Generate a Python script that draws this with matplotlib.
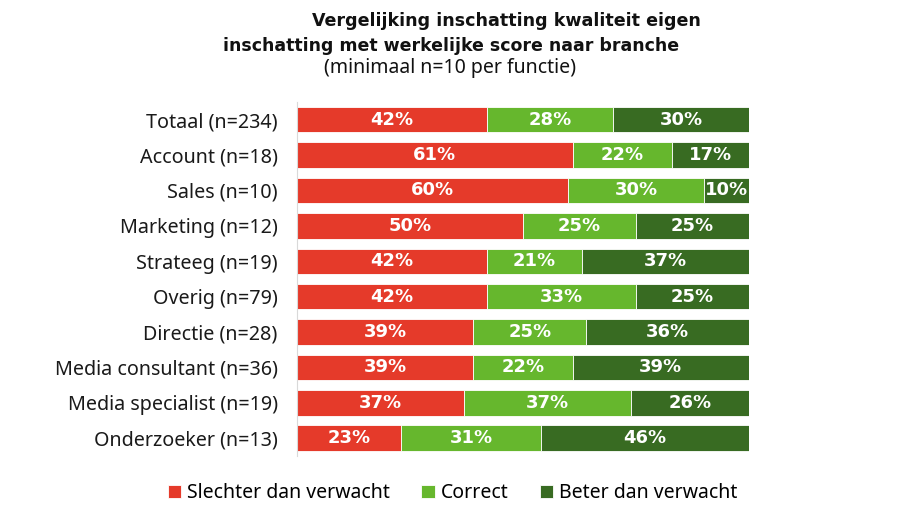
import numpy as np
import matplotlib.pyplot as plt

plt.rcParams['font.family'] = ['Noto Sans', 'DejaVu Sans']
BOLD = ['DejaVu Sans']

# data
categories = ["Totaal (n=234)", "Account (n=18)", "Sales (n=10)", "Marketing (n=12)",
              "Strateeg (n=19)", "Overig (n=79)", "Directie (n=28)",
              "Media consultant (n=36)", "Media specialist (n=19)", "Onderzoeker (n=13)"]
slechter = [42, 61, 60, 50, 42, 42, 39, 39, 37, 23]
correct = [28, 22, 30, 25, 21, 33, 25, 22, 37, 31]
beter = [30, 17, 10, 25, 37, 25, 36, 39, 26, 46]
series_names = ["Slechter dan verwacht", "Correct", "Beter dan verwacht"]
colors = ["#E53A2A", "#66B72D", "#386B22"]

fig = plt.figure(figsize=(9.2, 5.18), dpi=100)
ax = fig.add_axes([0.323, 0.12, 0.491, 0.683])

y = np.arange(len(categories))
left = np.zeros(len(categories))
for vals, name, col in zip([slechter, correct, beter], series_names, colors):
    vals = np.array(vals, dtype=float)
    ax.barh(y, vals, left=left, height=0.72, color=col, label=name,
            edgecolor="white", linewidth=0.6)
    for yi, l, v in zip(y, left, vals):
        ax.text(l + v / 2, yi, f"{int(v)}%", ha="center", va="center",
                color="white", fontsize=13, fontweight="bold", family=BOLD)
    left += vals

ax.set_xlim(0, 100)
ax.set_ylim(len(categories) - 0.5, -0.5)
ax.set_yticks(y)
ax.set_yticklabels(categories, fontsize=14.2, color="#1a1a1a")
ax.tick_params(axis="y", length=0, pad=14)
ax.set_xticks([])
for s in ["top", "right", "bottom"]:
    ax.spines[s].set_visible(False)
ax.spines["left"].set_color("#d9d9d9")

# title
fig.text(0.5505, 0.96, "Vergelijking inschatting kwaliteit eigen", ha="center", va="center",
         fontsize=12.6, fontweight="bold", color="#111111", family=BOLD)
fig.text(0.490, 0.912, "inschatting met werkelijke score naar branche", ha="center", va="center",
         fontsize=12.5, fontweight="bold", color="#111111", family=BOLD)
fig.text(0.489, 0.869, "(minimaal n=10 per functie)", ha="center", va="center",
         fontsize=14, color="#111111")

handles, labels = ax.get_legend_handles_labels()
fig.legend(handles, labels, loc="center", bbox_to_anchor=(0.492, 0.048), ncol=3,
           frameon=False, fontsize=14, handlelength=0.7, handleheight=0.7,
           handletextpad=0.3, columnspacing=1.6)

fig.savefig("out.png", dpi=100)
